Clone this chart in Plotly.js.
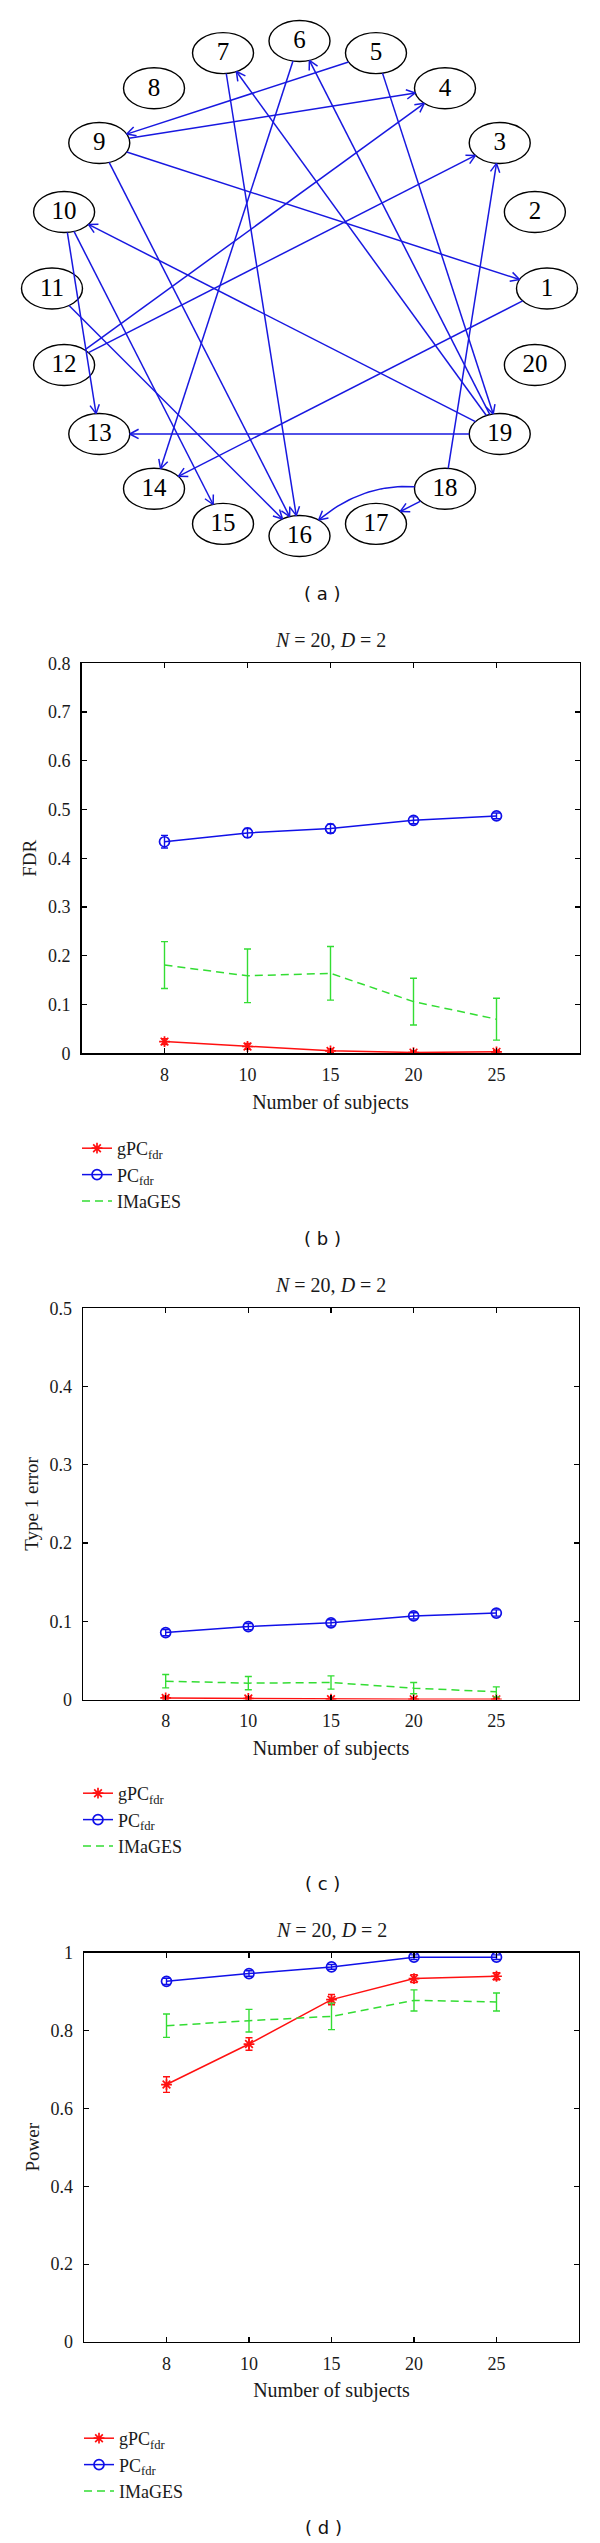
<!DOCTYPE html>
<html>
<head>
<meta charset="utf-8">
<script src="https://cdn.plot.ly/plotly-3.0.1.min.js"></script>
<style>html,body{margin:0;padding:0;background:#fff}</style>
</head>
<body>
<div id="chart" style="width:600px;height:2543px"></div>
<script>
// ---------------- DATA ----------------
const nodeIds = [1,2,3,4,5,6,7,8,9,10,11,12,13,14,15,16,17,18,19,20];
const edgeFrom = [5, 9, 6, 7, 19, 19, 5, 12, 12, 9, 9, 10, 10, 11, 19, 1, 19, 18, 18, 18];
const edgeTo   = [9, 4, 14, 16, 7, 6, 19, 4, 3, 1, 16, 13, 15, 16, 10, 14, 13, 3, 17, 16];
const edgeBend = [0, 0, 0, 0, 0, 0, 0, 0, 0, 0, 0, 0, 0, 0, 0, 0, 0, 0, 0, 0.2];

const subjects = [8, 10, 15, 20, 25];
const seriesNames = ['gPC<sub>fdr</sub>', 'PC<sub>fdr</sub>', 'IMaGES'];

const fdrGPC      = [0.024, 0.014, 0.005, 0.0015, 0.003];
const fdrGPCErr   = [0.006, 0.006, 0.004, 0.003, 0.003];
const fdrPC       = [0.434, 0.452, 0.461, 0.478, 0.487];
const fdrPCErr    = [0.013, 0.009, 0.009, 0.007, 0.006];
const fdrIMG      = [0.181, 0.159, 0.164, 0.106, 0.070];
const fdrIMGErr   = [0.048, 0.055, 0.055, 0.048, 0.043];

const t1GPC       = [0.002, 0.0013, 0.0005, 0.0002, 0.0002];
const t1GPCErr    = [0.002, 0.0015, 0.001, 0.001, 0.001];
const t1PC        = [0.0855, 0.0932, 0.098, 0.1068, 0.1105];
const t1PCErr     = [0.004, 0.004, 0.004, 0.004, 0.004];
const t1IMG       = [0.0234, 0.0209, 0.0217, 0.0145, 0.0098];
const t1IMGErr    = [0.0085, 0.0085, 0.0085, 0.0072, 0.0064];

const powGPC      = [0.661, 0.765, 0.879, 0.933, 0.939];
const powGPCErr   = [0.020, 0.016, 0.013, 0.010, 0.009];
const powPC       = [0.926, 0.946, 0.963, 0.988, 0.988];
const powPCErr    = [0.008, 0.007, 0.006, 0.006, 0.006];
const powIMG      = [0.812, 0.825, 0.836, 0.877, 0.873];
const powIMGErr   = [0.030, 0.029, 0.034, 0.027, 0.023];

// ---------------- LAYOUT HELPERS ----------------
const W = 600, H = 2543;
const px = v => v / W;
const py = v => 1 - v / H;
const SERIF = 'Liberation Serif, Times New Roman, serif';
const RED = '#ff1010', BLUE = '#1010e8', GREEN = '#33dd33', EDGE = '#1818e0';

// graph geometry (circular layout)
const G = {cx: 299.5, cy: 288.5, rx: 247.5, ry: 247.5, nrx: 30.5, nry: 20.5, top: 0, bottom: 562};
function nodePos(id) {
  const a = (id - 1) * Math.PI / 10;
  return [G.cx + G.rx * Math.cos(a), G.cy - G.ry * Math.sin(a)];
}
function boundary(c, toward) {
  const dx = toward[0] - c[0], dy = toward[1] - c[1];
  const L = Math.hypot(dx, dy), ux = dx / L, uy = dy / L;
  const t = 1 / Math.sqrt((ux / G.nrx) ** 2 + (uy / G.nry) ** 2);
  return [c[0] + ux * t, c[1] + uy * t];
}

const ex = [], ey = [];
const AL = 10, AA = 28 * Math.PI / 180;
edgeFrom.forEach((f, i) => {
  const A = nodePos(f), B = nodePos(edgeTo[i]);
  let T, dir;
  if (edgeBend[i]) {
    const dx = B[0] - A[0], dy = B[1] - A[1], L = Math.hypot(dx, dy);
    const C = [(A[0] + B[0]) / 2 - dy / L * edgeBend[i] * L, (A[1] + B[1]) / 2 + dx / L * edgeBend[i] * L];
    const S = boundary(A, C);
    T = boundary(B, C);
    for (let k = 0; k <= 24; k++) {
      const t = k / 24, m = 1 - t;
      ex.push(m * m * S[0] + 2 * m * t * C[0] + t * t * T[0]);
      ey.push(m * m * S[1] + 2 * m * t * C[1] + t * t * T[1]);
    }
    dir = [T[0] - C[0], T[1] - C[1]];
  } else {
    const S = boundary(A, B);
    T = boundary(B, A);
    ex.push(S[0], T[0]); ey.push(S[1], T[1]);
    dir = [T[0] - S[0], T[1] - S[1]];
  }
  ex.push(null); ey.push(null);
  const dl = Math.hypot(dir[0], dir[1]), ux = dir[0] / dl, uy = dir[1] / dl;
  [AA, -AA].forEach(a => {
    const rx = ux * Math.cos(a) - uy * Math.sin(a), ry = ux * Math.sin(a) + uy * Math.cos(a);
    ex.push(T[0] - AL * rx, T[0]); ey.push(T[1] - AL * ry, T[1]);
    ex.push(null); ey.push(null);
  });
});

const nodeShapes = nodeIds.map(id => {
  const p = nodePos(id);
  return {type: 'circle', xref: 'x4', yref: 'y4', layer: 'below',
    x0: p[0] - G.nrx, x1: p[0] + G.nrx, y0: p[1] - G.nry, y1: p[1] + G.nry,
    line: {color: '#000', width: 1.4}, fillcolor: '#fff'};
});

const traces = [];
traces.push({x: ex, y: ey, xaxis: 'x4', yaxis: 'y4', mode: 'lines', showlegend: false,
  line: {color: EDGE, width: 1.5}, hoverinfo: 'skip', connectgaps: false});
traces.push({x: nodeIds.map(id => nodePos(id)[0]), y: nodeIds.map(id => nodePos(id)[1] + 1),
  xaxis: 'x4', yaxis: 'y4', mode: 'text', text: nodeIds.map(String), showlegend: false,
  textfont: {family: SERIF, size: 25, color: '#000'}, hoverinfo: 'skip'});

// line-plot panels
const xpos = subjects.map((s, i) => i + 1);
const panels = [
  {ax: '', leg: 'legend', data: [[fdrGPC, fdrGPCErr], [fdrPC, fdrPCErr], [fdrIMG, fdrIMGErr]]},
  {ax: '2', leg: 'legend2', data: [[t1GPC, t1GPCErr], [t1PC, t1PCErr], [t1IMG, t1IMGErr]]},
  {ax: '3', leg: 'legend3', data: [[powGPC, powGPCErr], [powPC, powPCErr], [powIMG, powIMGErr]]}
];
const styles = [
  {color: RED, mode: 'lines+markers', marker: {symbol: 'asterisk-open', size: 9, line: {color: RED, width: 1.7}}, dash: 'solid'},
  {color: BLUE, mode: 'lines+markers', marker: {symbol: 'circle-open', size: 10, line: {color: BLUE, width: 1.7}}, dash: 'solid'},
  {color: GREEN, mode: 'lines', marker: {}, dash: '8px,5px'}
];
panels.forEach(p => {
  p.data.forEach((d, j) => {
    const s = styles[j];
    traces.push({x: xpos, y: d[0], xaxis: 'x' + p.ax, yaxis: 'y' + p.ax, name: seriesNames[j],
      legend: p.leg, mode: s.mode, marker: Object.assign({color: s.color}, s.marker),
      line: {color: s.color, width: 1.5, dash: s.dash},
      error_y: {type: 'data', array: d[1], visible: true, color: s.color, thickness: 1.4, width: 3.5},
      hoverinfo: 'x+y'});
  });
});

const tickFont = {family: SERIF, size: 18, color: '#1a1a1a'};
const titleFont = {family: SERIF, size: 20, color: '#1a1a1a'};
function xAxis(x0, x1, anchor) {
  return {domain: [px(x0), px(x1)], anchor: anchor, range: [0, 6], tickmode: 'array',
    tickvals: xpos, ticktext: subjects.map(String), ticks: 'inside', ticklen: 5, tickwidth: 1.2,
    tickcolor: '#000', mirror: 'ticks', showline: true, linecolor: '#000', linewidth: 1.3,
    showgrid: false, zeroline: false, ticklabelstandoff: 5,
    tickfont: tickFont,
    title: {text: 'Number of subjects', font: titleFont, standoff: 10},
    fixedrange: true};
}
function yAxis(top, bottom, range, dtick, title, anchor) {
  return {domain: [py(bottom), py(top)], anchor: anchor, range: range, dtick: dtick, tick0: 0,
    ticks: 'inside', ticklen: 5, tickwidth: 1.2, tickcolor: '#000', mirror: 'ticks',
    showline: true, linecolor: '#000', linewidth: 1.3, showgrid: false, zeroline: false,
    ticklabelstandoff: 6,
    tickfont: tickFont,
    title: {text: title, font: {family: SERIF, size: 19, color: '#1a1a1a'}, standoff: 6},
    fixedrange: true};
}

const legFont = {family: SERIF, size: 18, color: '#1a1a1a'};
function legend(x, y) {
  return {x: px(x), y: py(y), xanchor: 'left', yanchor: 'top', xref: 'paper', yref: 'paper',
    bgcolor: 'rgba(0,0,0,0)', borderwidth: 0, font: legFont, itemwidth: 30, tracegroupgap: 0};
}

const titleText = '<i>N</i> = 20, <i>D</i> = 2';
const ann = (x, y, text, font) => ({x: px(x), y: py(y), xref: 'paper', yref: 'paper',
  text: text, showarrow: false, xanchor: 'center', yanchor: 'middle', font: font});
const labFont = {family: 'DejaVu Sans, sans-serif', size: 18, color: '#111'};
const ttlFont = {family: SERIF, size: 20, color: '#1a1a1a'};

const layout = {
  width: W, height: H, margin: {l: 0, r: 0, t: 0, b: 0},
  paper_bgcolor: '#fff', plot_bgcolor: 'rgba(0,0,0,0)', showlegend: true,
  xaxis: xAxis(81.5, 579.5, 'y'),
  yaxis: yAxis(663.3, 1053.3, [0, 0.8], 0.1, 'FDR', 'x'),
  xaxis2: xAxis(83, 579, 'y2'),
  yaxis2: yAxis(1308.3, 1699.5, [0, 0.5], 0.1, 'Type 1 error', 'x2'),
  xaxis3: xAxis(84, 579, 'y3'),
  yaxis3: yAxis(1952.5, 2342, [0, 1], 0.2, 'Power', 'x3'),
  xaxis4: {domain: [0, 1], range: [0, W], visible: false, fixedrange: true, anchor: 'y4'},
  yaxis4: {domain: [py(G.bottom), py(G.top)], range: [G.bottom, G.top], visible: false, fixedrange: true, anchor: 'x4'},
  legend: legend(77, 1130),
  legend2: legend(78, 1775),
  legend3: legend(79, 2420),
  shapes: nodeShapes,
  annotations: [
    ann(322.6, 593, '( a )', labFont),
    ann(330, 640, titleText, ttlFont),
    ann(322.6, 1238, '( b )', labFont),
    ann(330.5, 1285, titleText, ttlFont),
    ann(322.6, 1883, '( c )', labFont),
    ann(331, 1930, titleText, ttlFont),
    ann(323, 2527, '( d )', labFont)
  ]
};

Plotly.newPlot('chart', traces, layout, {displayModeBar: false, staticPlot: true});
</script>
</body>
</html>
